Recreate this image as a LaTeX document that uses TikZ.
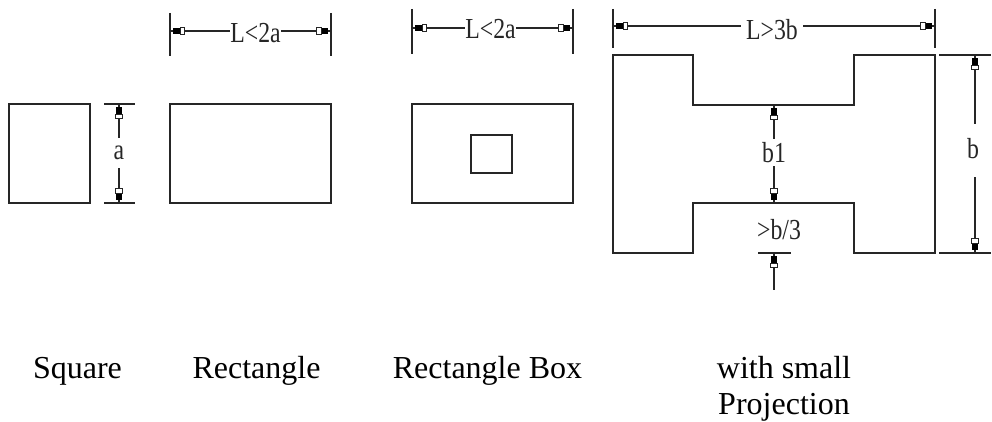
\documentclass[tikz,border=0pt]{standalone}
\usepackage{fontspec}
\setmainfont{Liberation Serif}
\newfontfamily\cadfont[FakeStretch=0.82]{Liberation Serif}
\tikzset{
  shape line/.style={draw=black!85,line width=1.2pt},
  dim line/.style={draw=black!85,line width=1.1pt},
  box/.style={shape line,rectangle,inner sep=0pt,outer sep=0pt},
  cad/.style={font=\cadfont\fontsize{29}{29}\selectfont,inner sep=0.5pt,text=black!85},
  caption/.style={font=\fontsize{32}{32}\selectfont,inner sep=0pt,anchor=base,align=center,text=black},
  pics/marker/.style={code={
    \fill[black] (3,-2.6) rectangle (10,2.6);
    \draw[black!85,line width=0.9pt,fill=white] (10,-3.5) rectangle (14.5,3.5);
  }}
}
\begin{document}
\begin{tikzpicture}[x=1pt,y=-1pt]
\useasboundingbox (0,0) rectangle (992,422);
% square
\node[box,minimum width=81pt,minimum height=99pt] (sq) at (49.5,153.5) {};
\coordinate (sqT1) at (104,104); \coordinate (sqT2) at (135,104);
\coordinate (sqB1) at (104,203); \coordinate (sqB2) at (135,203);
\coordinate (sqTm) at (119,104); \coordinate (sqBm) at (119,203);
\draw[dim line] (sqT1)--(sqT2); \draw[dim line] (sqB1)--(sqB2);
\node[cad] (la) at (119,153) {a};
\draw[dim line] (sqTm)--(119,138); \draw[dim line] (sqBm)--(119,168);
\pic[rotate=-90] at (sqTm) {marker}; \pic[rotate=90] at (sqBm) {marker};
% rectangle
\node[box,minimum width=161pt,minimum height=99pt] (re) at (250.5,153.5) {};
\coordinate (reL1) at (170,13); \coordinate (reL2) at (170,56);
\coordinate (reR1) at (331,13); \coordinate (reR2) at (331,56);
\coordinate (reLm) at (170,31); \coordinate (reRm) at (331,31);
\draw[dim line] (reL1)--(reL2); \draw[dim line] (reR1)--(reR2);
\node[cad] (lr) at (255.5,33) {L<2a};
\draw[dim line] (reLm)--(lr.west |- reLm); \draw[dim line] (reRm)--(lr.east |- reRm);
\pic at (reLm) {marker}; \pic[rotate=180] at (reRm) {marker};
% rectangle box
\node[box,minimum width=161pt,minimum height=99pt] (rb) at (492.5,153.5) {};
\node[box,minimum width=41pt,minimum height=38pt] (rbi) at (491.5,154) {};
\coordinate (rbL1) at (412,9); \coordinate (rbL2) at (412,54);
\coordinate (rbR1) at (573,9); \coordinate (rbR2) at (573,54);
\coordinate (rbLm) at (412,28); \coordinate (rbRm) at (573,28);
\draw[dim line] (rbL1)--(rbL2); \draw[dim line] (rbR1)--(rbR2);
\node[cad] (lb) at (490.5,29) {L<2a};
\draw[dim line] (rbLm)--(lb.west |- rbLm); \draw[dim line] (rbRm)--(lb.east |- rbRm);
\pic at (rbLm) {marker}; \pic[rotate=180] at (rbRm) {marker};
% H shape
\draw[shape line,line join=miter] (613,55)--(693,55)--(693,105)--(854,105)--(854,55)--(935,55)
  --(935,253)--(854,253)--(854,203)--(693,203)--(693,253)--(613,253)--cycle;
\coordinate (hL1) at (613,9); \coordinate (hL2) at (613,48);
\coordinate (hR1) at (935,9); \coordinate (hR2) at (935,48);
\coordinate (hLm) at (613,26); \coordinate (hRm) at (935,26);
\draw[dim line] (hL1)--(hL2); \draw[dim line] (hR1)--(hR2);
\node[cad,inner sep=5pt] (lh) at (772,30) {L>3b};
\draw[dim line] (hLm)--(lh.west |- hLm); \draw[dim line] (hRm)--(lh.east |- hRm);
\pic at (hLm) {marker}; \pic[rotate=180] at (hRm) {marker};
% b
\coordinate (bT1) at (939,55); \coordinate (bT2) at (991,55);
\coordinate (bB1) at (939,253); \coordinate (bB2) at (991,253);
\coordinate (bTm) at (975,55); \coordinate (bBm) at (975,253);
\draw[dim line] (bT1)--(bT2); \draw[dim line] (bB1)--(bB2);
\node[cad] (lbb) at (973,149) {b};
\draw[dim line] (bTm)--(975,124); \draw[dim line] (bBm)--(975,177);
\pic[rotate=-90] at (bTm) {marker}; \pic[rotate=90] at (bBm) {marker};
% b1
\coordinate (b1T) at (774,105); \coordinate (b1B) at (774,203);
\node[cad] (lb1) at (774,152.5) {b1};
\draw[dim line] (b1T)--(774,139); \draw[dim line] (b1B)--(774,166);
\pic[rotate=-90] at (b1T) {marker}; \pic[rotate=90] at (b1B) {marker};
% >b/3
\node[cad] (lb3) at (779,230) {>b/3};
\coordinate (e1) at (758,253); \coordinate (e2) at (791,253);
\coordinate (eT) at (774,253); \coordinate (eB) at (774,290);
\draw[dim line] (e1)--(e2); \draw[dim line] (eT)--(eB);
\pic[rotate=-90] at (eT) {marker};
% captions
\node[caption] (c1) at (77.5,378.5) {Square};
\node[caption] (c2) at (256.5,378.5) {Rectangle};
\node[caption] (c3) at (487.5,378.5) {Rectangle Box};
\node[caption] (c4) at (784,378.5) {with small};
\node[caption] (c5) at (784,414) {Projection};
\end{tikzpicture}
\end{document}
